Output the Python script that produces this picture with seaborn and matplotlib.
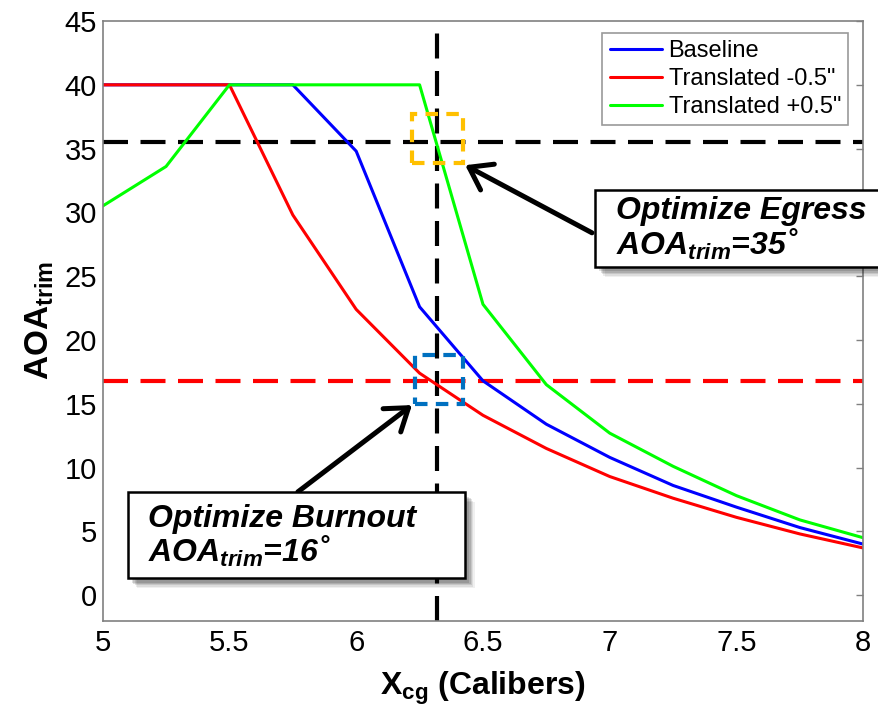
import numpy as np
import pandas as pd
import seaborn as sns
import matplotlib
matplotlib.use("Agg")
import matplotlib.pyplot as plt
from matplotlib.patches import Rectangle
from matplotlib import patheffects as pe

# ---- data -------------------------------------------------------------
x_cg = [5.0, 5.25, 5.5, 5.75, 6.0, 6.25, 6.5, 6.75, 7.0, 7.25, 7.5, 7.75, 8.0]
baseline = [40.0, 40.0, 40.0, 40.0, 34.8, 22.6, 16.8, 13.4, 10.8, 8.6, 6.9, 5.3, 4.0]
trans_minus = [40.0, 40.0, 40.0, 29.8, 22.4, 17.4, 14.1, 11.5, 9.3, 7.6, 6.1, 4.8, 3.7]
trans_plus = [30.5, 33.6, 40.0, 40.0, 40.0, 40.0, 22.8, 16.5, 12.7, 10.1, 7.8, 5.9, 4.5]
series_names = ["Baseline", 'Translated -0.5"', 'Translated +0.5"']
series_colors = ["#0000FF", "#FF0000", "#00FF00"]

egress_aoa = 35.5
burnout_aoa = 16.8
design_xcg = 6.32
egress_label = "Optimize Egress"
burnout_label = "Optimize Burnout"
egress_value = "35"
burnout_value = "16"

x_ticks = [5, 5.5, 6, 6.5, 7, 7.5, 8]
y_ticks = list(range(0, 46, 5))

# ---- styling ----------------------------------------------------------
sns.set_theme(style="white")
plt.rcParams["font.family"] = ["Liberation Sans", "DejaVu Sans"]
plt.rcParams["text.color"] = "black"
plt.rcParams["axes.labelcolor"] = "black"
plt.rcParams["mathtext.fontset"] = "custom"
plt.rcParams["mathtext.rm"] = "Liberation Sans:bold"
plt.rcParams["mathtext.bf"] = "Liberation Sans:bold"
plt.rcParams["mathtext.it"] = "Liberation Sans:bold:italic"

df = pd.concat([
    pd.DataFrame({"x": x_cg, "aoa": vals, "case": name})
    for name, vals in zip(series_names, [baseline, trans_minus, trans_plus])
])

fig = plt.figure(figsize=(8.79, 7.08), dpi=100)
ax = fig.add_axes([0.1168, 0.1233, 0.8653, 0.8470])

sns.lineplot(data=df, x="x", y="aoa", hue="case", hue_order=series_names,
             palette=series_colors, linewidth=2.2, ax=ax, sort=False,
             estimator=None, legend=True)

ax.set_xlim(5, 8)
ax.set_ylim(-2, 45)
ax.set_xticks(x_ticks)
ax.set_xticklabels([f"{t:g}" for t in x_ticks])
ax.set_yticks(y_ticks)
ax.tick_params(axis="both", direction="in", length=5, width=1, color="#808080",
               labelsize=21, pad=6, top=False, right=True, labelcolor="black")
ax.tick_params(axis="y", pad=4)
for s in ax.spines.values():
    s.set_color("#808080")
    s.set_linewidth(1.2)

ax.set_xlabel(r"$\mathrm{X_{cg}}$ (Calibers)", fontsize=23, fontweight="bold",
              labelpad=9, color="black")
ax.set_ylabel(r"$\mathrm{AOA_{trim}}$", fontsize=24, fontweight="bold", labelpad=6,
              color="black")

# reference lines
dash = dict(linewidth=3.0, dashes=(6, 3))
ax.axhline(egress_aoa, color="black", zorder=1, **dash)
ax.axhline(burnout_aoa, color="#FF0000", zorder=1, **dash)
ax.axvline(design_xcg, color="black", zorder=1, **dash)

# highlight squares
ax.add_patch(Rectangle((6.22, 33.9), 0.20, 3.8, fill=False, edgecolor="#FFC000",
                       linewidth=3.0, linestyle=(0, (3, 2)), zorder=4))
ax.add_patch(Rectangle((6.23, 15.0), 0.19, 3.8, fill=False, edgecolor="#0070C0",
                       linewidth=3.0, linestyle=(0, (3, 2)), zorder=4))

# legend
leg = ax.legend(loc="upper right", bbox_to_anchor=(0.98, 0.98), borderaxespad=0,
                fontsize=17, frameon=True, fancybox=False, handlelength=2.2,
                handletextpad=0.3, labelspacing=0.25, borderpad=0.3)
leg.get_frame().set_edgecolor("#808080")
leg.get_frame().set_linewidth(1.2)
for h in leg.get_lines():
    h.set_linewidth(2.2)
for t in leg.get_texts():
    t.set_color("black")

# callout boxes with soft shadow
shadow = [pe.SimplePatchShadow(offset=(o, -o), shadow_rgbFace="black", alpha=a)
          for o, a in [(7, 0.06), (6, 0.08), (5, 0.1), (4, 0.12), (3, 0.12)]] + [pe.Normal()]

def callout(x0, y0, x1, y1, title, value, tx, ty):
    r = Rectangle((x0, y0), x1 - x0, y1 - y0, facecolor="white", edgecolor="black",
                  linewidth=1.8, zorder=6, clip_on=False)
    r.set_path_effects(shadow)
    ax.add_patch(r)
    ax.text(tx, ty, title + "\n" + r"$AOA_{trim}$=" + value + "˚", fontsize=23,
            fontweight="bold", style="italic", ha="left", va="center",
            linespacing=1.0, zorder=7, clip_on=False, color="black")

callout(6.942, 25.7, 8.08, 31.74, egress_label, egress_value, 7.025, 28.7)
callout(5.099, 1.31, 6.429, 8.05, burnout_label, burnout_value, 5.18, 4.6)

arrow = dict(arrowstyle="->,head_length=0.5,head_width=0.35", linewidth=3.6,
             color="black", mutation_scale=30, shrinkA=0, shrinkB=0)
ax.annotate("", xy=(6.43, 33.7), xytext=(6.93, 28.4), arrowprops=arrow, zorder=5)
ax.annotate("", xy=(6.22, 14.9), xytext=(5.77, 8.1), arrowprops=arrow, zorder=5)

fig.savefig("out.png", dpi=100)
